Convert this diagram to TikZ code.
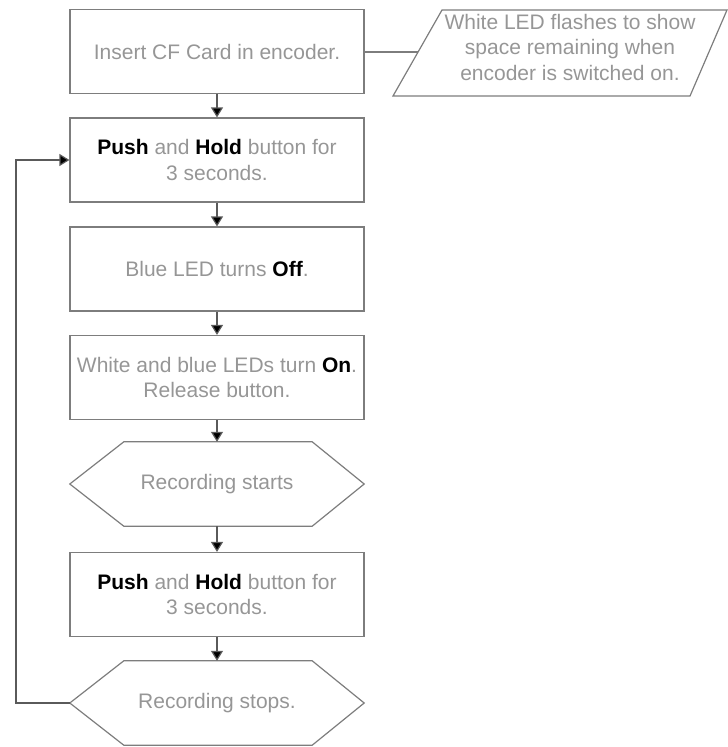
\documentclass[tikz,border=0pt]{standalone}
\usepackage{fontspec}
\setmainfont{Liberation Sans}
\usetikzlibrary{arrows.meta}
\definecolor{txtgray}{RGB}{150,150,150}
\definecolor{edgegray}{RGB}{125,125,125}
\definecolor{linegray}{RGB}{90,90,90}
\newcommand{\bk}[1]{\textcolor{black}{\textbf{#1}}}
\begin{document}
\begin{tikzpicture}[x=1pt,y=-1pt,
  every node/.style={font=\fontsize{21}{25.5}\selectfont, text=txtgray, align=center, inner sep=0pt},
  stepbox/.style={draw=edgegray, line width=1.2pt, minimum width=294pt, minimum height=84pt},
  hexbox/.style={minimum width=294pt, minimum height=84pt},
  shapeline/.style={draw=edgegray, line width=1.2pt},
  conn/.style={draw=linegray, line width=1.2pt, -{Triangle[width=12pt,length=10pt,fill=black]}},
  plainconn/.style={draw=edgegray, line width=1.2pt}]
\useasboundingbox (0,0) rectangle (728,747);

\node[stepbox] (b1) at (217,51.5) {Insert CF Card in encoder.};
\node[stepbox] (b2) at (217,160) {\bk{Push} and \bk{Hold} button for\\3 seconds.};
\node[stepbox] (b3) at (217,269) {Blue LED turns \bk{Off}.};
\node[stepbox] (b4) at (217,377.5) {White and blue LEDs turn \bk{On}.\\Release button.};
\node[hexbox] (h1) at (217,484) {Recording starts};
\node[stepbox] (b5) at (217,594.5) {\bk{Push} and \bk{Hold} button for\\3 seconds.};
\node[hexbox] (h2) at (217,703) {Recording stops.};

% hexagon outlines
\foreach \h in {h1,h2}{
  \draw[shapeline] (\h.west) -- ([xshift=54pt]\h.north west) -- ([xshift=-52pt]\h.north east)
     -- (\h.east) -- ([xshift=-52pt]\h.south east) -- ([xshift=54pt]\h.south west) -- cycle;
}

% note parallelogram
\node (note) at (570,47) {White LED flashes to show\\space remaining when\\encoder is switched on.};
\coordinate (ntl) at (442,10);
\coordinate (ntr) at (727,10);
\coordinate (nbr) at (690,96);
\coordinate (nbl) at (393,96);
\coordinate (noteL) at (418,52);
\draw[shapeline] (ntl) -- (ntr) -- (nbr) -- (nbl) -- cycle;
\draw[plainconn] (b1.east |- noteL) -- (noteL);

% vertical flow
\draw[conn] (b1) -- (b2);
\draw[conn] (b2) -- (b3);
\draw[conn] (b3) -- (b4);
\draw[conn] (b4) -- (h1);
\draw[conn] (h1) -- (b5);
\draw[conn] (b5) -- (h2);

% loop back
\coordinate (lb) at (16,703);
\coordinate (lt) at (16,160);
\draw[conn] (h2.west) -- (lb) -- (lt) -- (b2.west);
\end{tikzpicture}
\end{document}
